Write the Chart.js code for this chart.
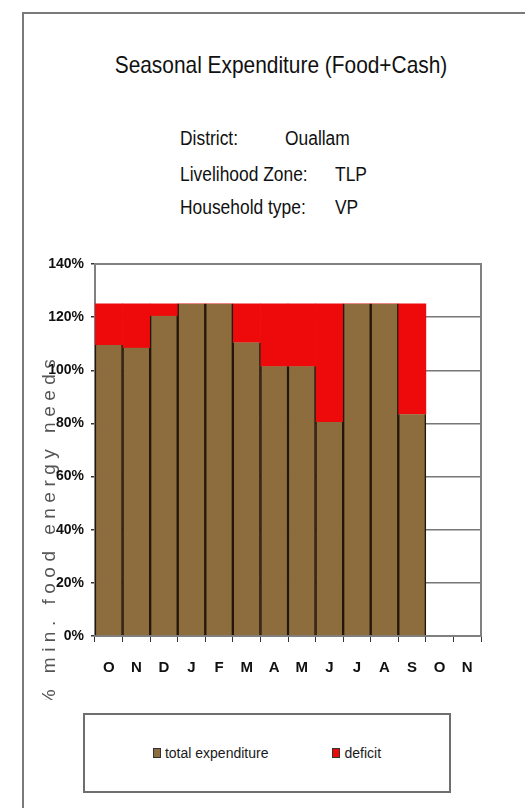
<!DOCTYPE html>
<html>
<head>
<meta charset="utf-8">
<script src="https://cdn.jsdelivr.net/npm/chart.js@4/dist/chart.umd.min.js"></script>
<style>
    body { margin: 0; width: 525px; height: 808px; overflow: hidden; background: #fff; position: relative; font-family: 'Liberation Sans', Arial, sans-serif; color: #111; }
    #frame { position: absolute; left: 22px; top: 12px; width: 540px; height: 820px; border: 2px solid #7a7a7a; }
    #title { position: absolute; left: 0; top: 51px; width: 562px; text-align: center; font-size: 24px; transform: scaleX(0.87); transform-origin: 281px 0; }
    .row { position: absolute; left: 180px; font-size: 20px; }
    .row span { position: absolute; top: 0; white-space: nowrap; transform: scaleX(0.87); transform-origin: 0 0; }
    #chartWrap { position: absolute; left: 0; top: 230px; }
    #legend { position: absolute; left: 83px; top: 713px; width: 364px; height: 76px; border: 2px solid #6e6e6e; display: flex; justify-content: center; align-items: center; gap: 64px; font-size: 14px; color: #1a1a1a; }
    #legend .item { display: flex; align-items: center; }
    #legend .box { width: 6px; height: 8px; margin-right: 4px; border: 1px solid #333; }
</style>
</head>
<body>
<div id="frame"></div>
<div id="title">Seasonal Expenditure (Food+Cash)</div>
<div class="row" style="top:127px"><span style="left:0">District:</span><span style="left:105px">Ouallam</span></div>
<div class="row" style="top:163px"><span style="left:0">Livelihood Zone:</span><span style="left:155px">TLP</span></div>
<div class="row" style="top:196px"><span style="left:0">Household type:</span><span style="left:155px">VP</span></div>
<div id="chartWrap"><canvas id="chart" width="525" height="470"></canvas></div>
<div id="legend"></div>
<script>
var months = ['O', 'N', 'D', 'J', 'F', 'M', 'A', 'M', 'J', 'J', 'A', 'S', 'O', 'N'];
var totalExpenditure = [109.5, 108.5, 120.5, 125, 125, 110.5, 101.5, 101.5, 80.5, 125, 125, 83.5, null, null];
var deficit = [15.5, 16.5, 4.5, 0, 0, 14.5, 23.5, 23.5, 44.5, 0, 0, 41.5, null, null];
var yTicks = [0, 20, 40, 60, 80, 100, 120, 140];
var yTitle = '% min. food energy needs';

var fontFamily = "'Liberation Sans', Arial, sans-serif";

var plotFrame = {
    id: 'plotFrame',
    beforeDatasetsDraw: function (chart) {
        var a = chart.chartArea;
        var ctx = chart.ctx;
        ctx.save();
        ctx.strokeStyle = '#808080';
        ctx.lineWidth = 2;
        ctx.strokeRect(a.left, a.top, a.right - a.left, a.bottom - a.top);
        ctx.restore();
    }
};

// the axis title sits under the tick labels in the original, so it is drawn first
var spacedTitle = {
    id: 'spacedTitle',
    beforeDraw: function (chart) {
        var ctx = chart.ctx;
        ctx.save();
        ctx.translate(50, 300);
        ctx.rotate(-Math.PI / 2);
        ctx.font = '19px ' + fontFamily;
        ctx.letterSpacing = '5.5px';
        ctx.fillStyle = '#555';
        ctx.textAlign = 'center';
        ctx.textBaseline = 'middle';
        ctx.fillText(yTitle, 0, 0);
        ctx.restore();
    }
};

var htmlLegend = {
    id: 'htmlLegend',
    afterUpdate: function (chart) {
        var el = document.getElementById('legend');
        el.innerHTML = '';
        chart.data.datasets.forEach(function (ds) {
            var item = document.createElement('div');
            item.className = 'item';
            var box = document.createElement('div');
            box.className = 'box';
            box.style.background = ds.backgroundColor;
            var txt = document.createElement('span');
            txt.textContent = ds.label;
            item.appendChild(box);
            item.appendChild(txt);
            el.appendChild(item);
        });
    }
};

var ctx = document.getElementById('chart').getContext('2d');
new Chart(ctx, {
    type: 'bar',
    data: {
        labels: months,
        datasets: [{
            label: 'total expenditure',
            data: totalExpenditure,
            backgroundColor: '#8d6d3d',
            borderColor: '#24170a',
            borderWidth: { left: 1.5, right: 1.5, top: 0, bottom: 0 },
            borderSkipped: false,
            categoryPercentage: 1,
            barPercentage: 1
        }, {
            label: 'deficit',
            data: deficit,
            backgroundColor: '#ee0a0a',
            borderWidth: 0,
            categoryPercentage: 1,
            barPercentage: 1
        }]
    },
    options: {
        responsive: false,
        animation: false,
        layout: { padding: { top: 34, left: 22, right: 44, bottom: 24 } },
        plugins: {
            legend: { display: false },
            tooltip: { enabled: false }
        },
        scales: {
            x: {
                stacked: true,
                afterFit: function (s) { s.height = 40; },
                grid: { drawOnChartArea: false, tickLength: 6, color: '#333', lineWidth: 1 },
                border: { color: '#111', width: 2 },
                ticks: { padding: 17, color: '#111', font: { family: fontFamily, size: 15, weight: 'bold' } }
            },
            y: {
                stacked: true,
                min: 0,
                max: 140,
                afterFit: function (s) { s.width = 73; },
                afterBuildTicks: function (s) {
                    s.ticks = yTicks.map(function (v) { return { value: v }; });
                },
                grid: { color: '#777', lineWidth: 1.5, tickLength: 4, tickColor: '#333' },
                border: { color: '#888', width: 2 },
                ticks: {
                    padding: 7,
                    color: '#111',
                    font: { family: fontFamily, size: 14, weight: 'bold' },
                    callback: function (v) { return v + '%'; }
                }
            }
        }
    },
    plugins: [plotFrame, spacedTitle, htmlLegend]
});
</script>
</body>
</html>
